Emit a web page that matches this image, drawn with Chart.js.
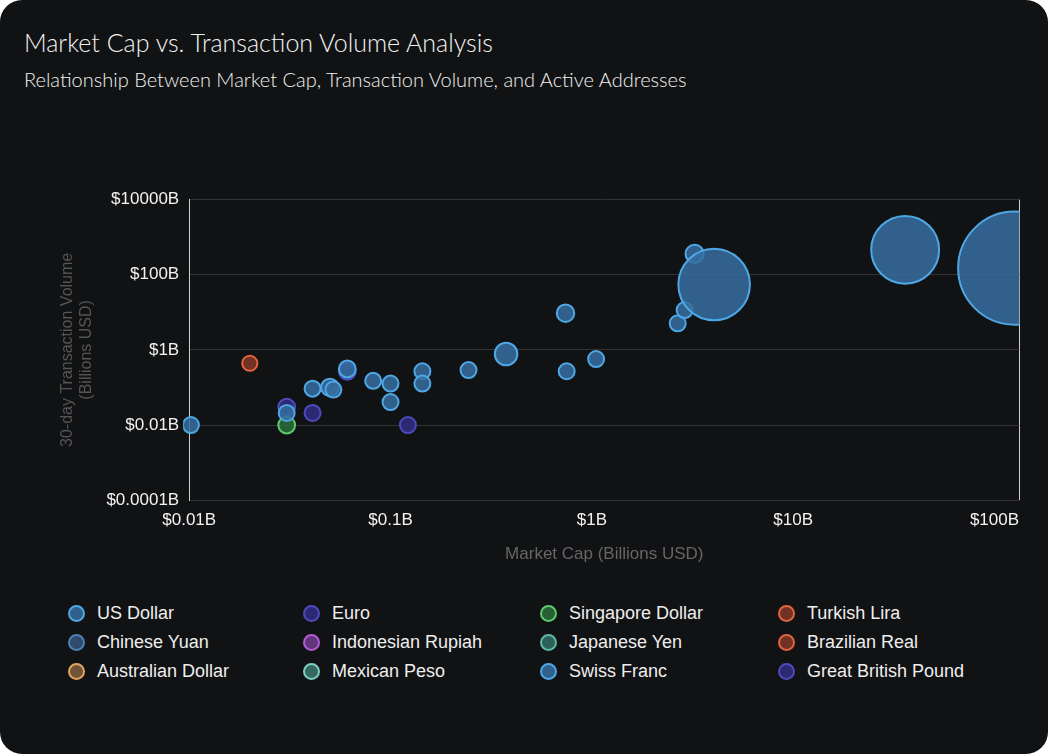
<!DOCTYPE html>
<html>
<head>
<meta charset="utf-8">
<script src="https://cdn.jsdelivr.net/npm/chart.js@4"></script>
<style>
  html, body { margin: 0; padding: 0; background: #fff; }
  .card { position: relative; width: 1048px; height: 754px; background: #111214; border-radius: 22px; overflow: hidden; font-family: Lato, "Open Sans", sans-serif; }
  h1 { position: absolute; left: 24px; top: 27px; margin: 0; font-weight: 300; font-size: 25px; color: #f2f2f2; }
  h2 { position: absolute; left: 24px; top: 67px; margin: 0; font-weight: 300; font-size: 20px; color: #f2f2f2; }
  .wrap { position: absolute; left: 0; top: 141px; width: 1078px; height: 428px; }
  .legend { position: absolute; left: 68px; top: 602px; display: grid; grid-template-columns: 235px 237px 238px 240px; row-gap: 7px; }
  .item { display: flex; align-items: center; font-size: 18px; color: #eee; height: 22px; font-family: "Liberation Sans", Arial, sans-serif; }
  .dot { width: 17px; height: 17px; border-radius: 50%; border: 2px solid; box-sizing: border-box; margin-right: 12px; }
</style>
</head>
<body>
<div class="card">
  <h1>Market Cap vs. Transaction Volume Analysis</h1>
  <h2>Relationship Between Market Cap, Transaction Volume, and Active Addresses</h2>
  <div class="wrap"><canvas id="c"></canvas></div>
  <div class="legend" id="legend"></div>
</div>
<script>
// ===== Data =====
const currencies = ["US Dollar", "Euro", "Singapore Dollar", "Turkish Lira",
  "Chinese Yuan", "Indonesian Rupiah", "Japanese Yen", "Brazilian Real",
  "Australian Dollar", "Mexican Peso", "Swiss Franc", "Great British Pound"];
const borderColors = ["#4ea8e6", "#4b4bbd", "#5cc96a", "#e0643e",
  "#4a82b8", "#b25ad8", "#5fb8a8", "#e0643e",
  "#e0a55e", "#7ccfbf", "#4ea8e6", "#4b4bbd"];
const fillColors = ["rgba(54,110,160,0.85)", "rgba(50,45,130,0.85)", "rgba(45,110,60,0.85)", "rgba(130,55,40,0.85)",
  "rgba(55,85,120,0.85)", "rgba(110,60,140,0.85)", "rgba(50,110,100,0.85)", "rgba(130,55,40,0.85)",
  "rgba(130,95,60,0.85)", "rgba(60,120,110,0.85)", "rgba(54,110,160,0.85)", "rgba(50,45,130,0.85)"];

// market cap (B), 30-day volume (B), active addresses (M)
const usdCap = [0.0102, 0.0305, 0.041, 0.05, 0.052, 0.061, 0.082, 0.1, 0.1, 0.144, 0.144, 0.244, 0.375, 0.74, 0.75, 1.05, 2.67, 2.89, 3.24, 4.05, 36, 126];
const usdVol = [0.01, 0.021, 0.093, 0.1, 0.088, 0.31, 0.15, 0.127, 0.041, 0.27, 0.127, 0.29, 0.78, 9.5, 0.27, 0.57, 5.1, 11.5, 360, 55, 460, 150];
const usdAddr = [1, 1, 1, 1.2, 1, 1.1, 1, 1, 1, 1, 1, 1, 2, 1.2, 1, 1, 1, 1, 1.3, 20, 18, 50];
const eurCap = [0.0305, 0.041];
const eurVol = [0.030, 0.021];
const eurAddr = [1.1, 1];
const sgdCap = [0.0305];
const sgdVol = [0.01];
const sgdAddr = [1.1];
const tryCap = [0.02];
const tryVol = [0.44];
const tryAddr = [0.9];
const gbpCap = [0.061, 0.122];
const gbpVol = [0.27, 0.01];
const gbpAddr = [1.1, 1];

const xTicks = [0.01, 0.1, 1, 10, 100];
const yTicks = [0.0001, 0.01, 1, 100, 10000];

function radius(addr) { return 8 * Math.sqrt(addr); }
function points(cap, vol, addr) {
  return cap.map((x, i) => ({ x, y: vol[i], r: radius(addr[i]) }));
}
const seriesData = {
  "US Dollar": points(usdCap, usdVol, usdAddr),
  "Euro": points(eurCap, eurVol, eurAddr),
  "Singapore Dollar": points(sgdCap, sgdVol, sgdAddr),
  "Turkish Lira": points(tryCap, tryVol, tryAddr),
  "Great British Pound": points(gbpCap, gbpVol, gbpAddr)
};

function fmt(v) {
  if (v >= 1) return "$" + v + "B";
  return "$" + parseFloat(v.toPrecision(1)) + "B";
}

const tickFont = { size: 17, family: "Liberation Sans" };

// ===== Chart =====
new Chart(document.getElementById("c"), {
  type: "bubble",
  data: {
    datasets: currencies.map((name, i) => ({
      label: name,
      data: seriesData[name] || [],
      backgroundColor: fillColors[i],
      borderColor: borderColors[i],
      borderWidth: 2,
      clip: { left: 6, right: 0, top: 6, bottom: 6 }
    }))
  },
  options: {
    responsive: true,
    maintainAspectRatio: false,
    animation: false,
    layout: { padding: { left: 58, right: 0, top: 22, bottom: 0 } },
    plugins: { legend: { display: false }, tooltip: { enabled: false } },
    scales: {
      x: {
        type: "logarithmic", min: 0.01, max: 133,
        afterBuildTicks: s => { s.ticks = xTicks.concat([133]).map(v => ({ value: v })); },
        ticks: { color: "#f2f2f2", font: tickFont, padding: 10,
          callback: v => xTicks.includes(v) ? fmt(v) : "" },
        grid: { color: c => c.index === 5 ? "#cfcfcf" : "transparent", drawTicks: false },
        border: { display: false },
        title: { display: true, text: "Market Cap (Billions USD)", color: "#666", font: tickFont }
      },
      y: {
        type: "logarithmic", min: 0.0001, max: 10000,
        afterBuildTicks: s => { s.ticks = yTicks.map(v => ({ value: v })); },
        ticks: { color: "#f2f2f2", font: tickFont, padding: 10, callback: v => fmt(v) },
        grid: { color: "#333", drawTicks: false },
        border: { color: "#cfcfcf" },
        title: { display: true, text: ["30-day Transaction Volume", "(Billions USD)"], color: "#555", font: { size: 16, family: "Liberation Sans" }, padding: 0 }
      }
    }
  }
});

// ===== Legend =====
const legend = document.getElementById("legend");
currencies.forEach((name, i) => {
  const div = document.createElement("div");
  div.className = "item";
  div.innerHTML = `<span class="dot" style="background:${fillColors[i]};border-color:${borderColors[i]}"></span>${name}`;
  legend.appendChild(div);
});
</script>
</body>
</html>
